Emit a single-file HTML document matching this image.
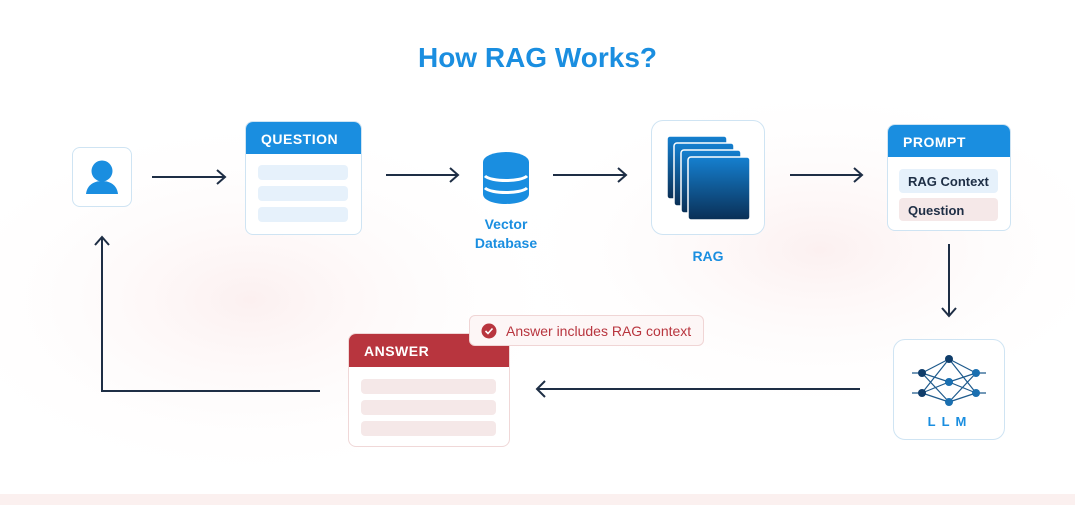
<!DOCTYPE html>
<html><head><meta charset="utf-8"><style>
*{margin:0;padding:0;box-sizing:border-box}
body{width:1075px;height:505px;overflow:hidden;background:#fff;font-family:"Liberation Sans",sans-serif;position:relative}
.a{position:absolute}
.card{position:absolute;background:#fff;border:1.5px solid #cfe4f3;border-radius:8px;overflow:hidden}
.hd{height:32px;color:#fff;font-size:14px;font-weight:bold;padding:9px 0 0 15px;letter-spacing:.5px}
.row{position:absolute;border-radius:4px}
.lbl{position:absolute;color:#1a8ee0;font-weight:bold;font-size:14px;text-align:center}
</style></head><body>
<svg class="a" style="left:0;top:0" width="1075" height="505">
<defs><radialGradient id="g1" cx="0.5" cy="0.5" r="0.5"><stop offset="0" stop-color="#fcf0f0"/><stop offset="1" stop-color="#fff" stop-opacity="0"/></radialGradient>
<linearGradient id="sq" x1="0" y1="0" x2="0" y2="1"><stop offset="0" stop-color="#1580d0"/><stop offset="1" stop-color="#0a2f55"/></linearGradient></defs>
<ellipse cx="250" cy="300" rx="330" ry="190" fill="url(#g1)"/>
<ellipse cx="820" cy="250" rx="320" ry="170" fill="url(#g1)"/>
<rect x="0" y="494" width="1075" height="11" fill="#fbf0ef"/>
<g stroke="#1e2e45" stroke-width="2" fill="none">
<path d="M152 177H225M217 170l8 7-8 7"/>
<path d="M386 175H458M450 168l8 7-8 7"/>
<path d="M553 175H626M618 168l8 7-8 7"/>
<path d="M790 175H862M854 168l8 7-8 7"/>
<path d="M949 244V316M942 308l7 8 7-8"/>
<path d="M860 389H537M545 381l-8 8 8 8"/>
<path d="M320 391H102V237M95 245l7-8 7 8"/>
</g>
</svg>
<div class="a" style="left:0;top:42px;width:1075px;text-align:center;color:#1a8ee0;font-size:28px;font-weight:bold">How RAG Works?</div>
<div class="card" style="left:72px;top:147px;width:60px;height:60px">
<svg width="60" height="60"><circle cx="29" cy="23" r="10.5" fill="#1a8ee0"/><path d="M13 46c1-9 8-13 16-13s15 4 16 13z" fill="#1a8ee0"/></svg></div>
<div class="card" style="left:245px;top:121px;width:117px;height:114px">
<div class="hd" style="background:#1a8ee0">QUESTION</div>
<div class="row" style="left:12px;top:43px;width:90px;height:15px;background:#e6f1fb"></div>
<div class="row" style="left:12px;top:64px;width:90px;height:15px;background:#e6f1fb"></div>
<div class="row" style="left:12px;top:85px;width:90px;height:15px;background:#e6f1fb"></div>
</div>
<svg class="a" style="left:481px;top:150px" width="50" height="56">
<ellipse cx="25" cy="12" rx="23" ry="10" fill="#1a8ee0"/>
<path d="M2 12v32c0 6 10 10 23 10s23-4 23-10V12" fill="#1a8ee0"/>
<path d="M4 26c6 6 36 6 42 0M4 38c6 6 36 6 42 0" stroke="#fff" stroke-width="3" fill="none"/>
</svg>
<div class="lbl" style="left:456px;top:215px;width:100px;line-height:19px">Vector<br>Database</div>
<div class="card" style="left:651px;top:120px;width:114px;height:115px;border-radius:12px">
<svg width="114" height="115">
<rect x="15" y="15" width="60" height="63" rx="3" fill="url(#sq)" stroke="#fff" stroke-width="1.5"/>
<rect x="22" y="22" width="60" height="63" rx="3" fill="url(#sq)" stroke="#fff" stroke-width="1.5"/>
<rect x="29" y="29" width="60" height="63" rx="3" fill="url(#sq)" stroke="#fff" stroke-width="1.5"/>
<rect x="36" y="36" width="62" height="63" rx="3" fill="url(#sq)" stroke="#fff" stroke-width="1.5"/>
</svg></div>
<div class="lbl" style="left:658px;top:248px;width:100px">RAG</div>
<div class="card" style="left:887px;top:124px;width:124px;height:107px">
<div class="hd" style="background:#1a8ee0">PROMPT</div>
<div class="row" style="left:11px;top:44px;width:99px;height:24px;background:#e6f1fb;font-size:13px;font-weight:bold;color:#1e2e45;padding:5px 0 0 9px">RAG Context</div>
<div class="row" style="left:11px;top:73px;width:99px;height:23px;background:#f5e8e8;font-size:13px;font-weight:bold;color:#1e2e45;padding:5px 0 0 9px">Question</div>
</div>
<div class="card" style="left:893px;top:339px;width:112px;height:101px;border-radius:12px">
<svg width="112" height="101">
<g stroke="#1e5a8c" stroke-width="1.2">
<path d="M28 33L55 19M28 33L55 42M28 33L55 62M28 53L55 19M28 53L55 42M28 53L55 62M55 19L82 33M55 42L82 33M55 62L82 33M55 19L82 53M55 42L82 53M55 62L82 53M18 33h10M18 53h10M82 33h10M82 53h10"/></g>
<g fill="#0f3d6a"><circle cx="28" cy="33" r="4"/><circle cx="28" cy="53" r="4"/><circle cx="55" cy="19" r="4"/></g>
<g fill="#1a6fb0"><circle cx="55" cy="42" r="4"/><circle cx="55" cy="62" r="4"/><circle cx="82" cy="33" r="4"/><circle cx="82" cy="53" r="4"/></g>
<text x="56" y="86" text-anchor="middle" fill="#1a8ee0" font-family="Liberation Sans" font-weight="bold" font-size="13" letter-spacing="6">LLM</text>
</svg></div>
<div class="card" style="left:348px;top:333px;width:162px;height:114px;border-color:#f0d8d8">
<div class="hd" style="background:#b8353e;height:33px">ANSWER</div>
<div class="row" style="left:12px;top:45px;width:135px;height:15px;background:#f5e8e8"></div>
<div class="row" style="left:12px;top:66px;width:135px;height:15px;background:#f5e8e8"></div>
<div class="row" style="left:12px;top:87px;width:135px;height:15px;background:#f5e8e8"></div>
</div>
<div class="a" style="left:469px;top:315px;width:235px;height:31px;background:#fdf6f6;border:1.5px solid #f0d5d5;border-radius:6px;color:#b8353e;font-size:14px;padding:7px 0 0 36px">Answer includes RAG context</div>
<svg class="a" style="left:481px;top:323px" width="16" height="16"><circle cx="8" cy="8" r="7.5" fill="#b8353e"/><path d="M4.5 8l2.5 2.5 4.5-5" stroke="#fff" stroke-width="1.6" fill="none"/></svg>
</body></html>
